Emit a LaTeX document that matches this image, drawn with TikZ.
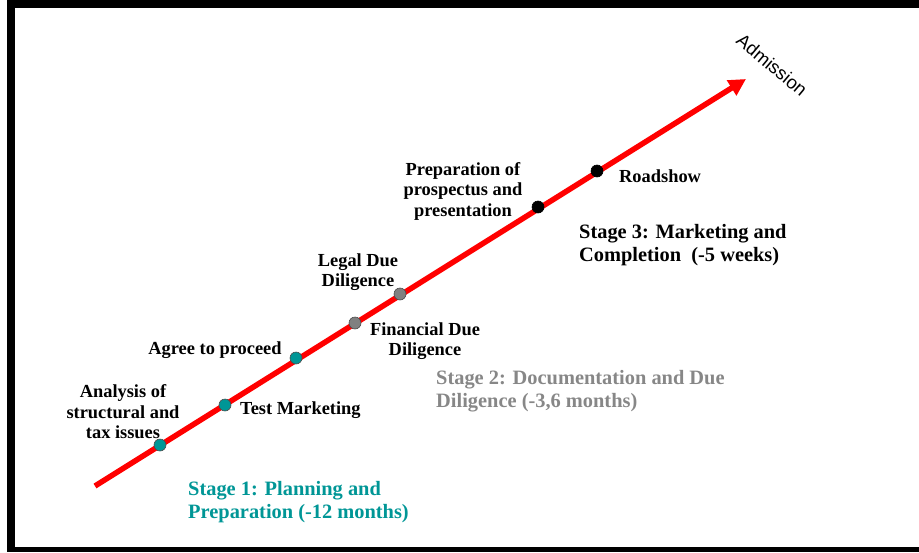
\documentclass[tikz,border=0pt]{standalone}
\usepackage{fontspec}
\setmainfont{Liberation Serif}
\newfontfamily\admfont{Liberation Sans}
\usetikzlibrary{arrows.meta}
\definecolor{tealdot}{RGB}{0,150,150}
\definecolor{graydot}{RGB}{128,128,128}
\definecolor{stageone}{RGB}{0,150,150}
\definecolor{stagetwo}{RGB}{135,135,135}
\tikzset{
  lbl/.style={font=\fontsize{18.4}{20.5}\selectfont\bfseries, inner sep=0pt, align=center},
  stg/.style={font=\fontsize{20.4}{22.5}\selectfont\bfseries, inner sep=0pt, align=left, anchor=west},
  dot/.style={circle, draw=black!70, line width=0.6pt, minimum size=12pt, inner sep=0pt},
  tdot/.style={dot, fill=tealdot},
  gdot/.style={dot, fill=graydot},
  bdot/.style={dot, fill=black, draw=black},
}
\begin{document}
\begin{tikzpicture}[x=1pt,y=-1pt]
\useasboundingbox (0,0) rectangle (919,552);
% frame
\fill[black] (7,0) rectangle (919,8);
\fill[black] (7,0) rectangle (15,552);
\fill[black] (7,546.5) rectangle (919,552);
% timeline
\coordinate (s) at (95,486);
\coordinate (e) at (746,79);
\draw[red, line width=5.5pt, -{Triangle[length=17pt,width=17pt]}] (s) -- (e);
% dots
\node[tdot] (d1) at (160,445) {};
\node[tdot] (d2) at (225,405) {};
\node[tdot] (d3) at (296,358) {};
\node[gdot] (d4) at (355,323) {};
\node[gdot] (d5) at (400,294) {};
\node[bdot] (d6) at (538,207) {};
\node[bdot] (d7) at (597,171) {};
% labels
\node[lbl] (l1) at (123,412) {Analysis of\\structural and\\tax issues};
\node[lbl, anchor=west] (l2) at (240,410) {Test Marketing};
\node[lbl] (l3) at (215,350) {Agree to proceed};
\node[lbl] (l4) at (425,341) {Financial Due\\Diligence};
\node[lbl] (l5) at (358,272) {Legal Due\\Diligence};
\node[lbl] (l6) at (463,191) {Preparation of\\prospectus and\\presentation};
\node[lbl, anchor=west] (l7) at (619,176) {Roadshow};
% stages
\node[stg, text=stageone] (st1) at (188,502) {Stage 1: Planning and\\Preparation (-12 months)};
\node[stg, text=stagetwo] (st2) at (436,391) {Stage 2: Documentation and Due\\Diligence (-3,6 months)};
\node[stg, text=black] (st3) at (579,245) {Stage 3: Marketing and\\Completion~ (-5 weeks)};
% admission
\node[font=\admfont\fontsize{18.5}{20}\selectfont, rotate=-40, inner sep=0pt] (adm) at (772,65) {Admission};
\end{tikzpicture}
\end{document}
